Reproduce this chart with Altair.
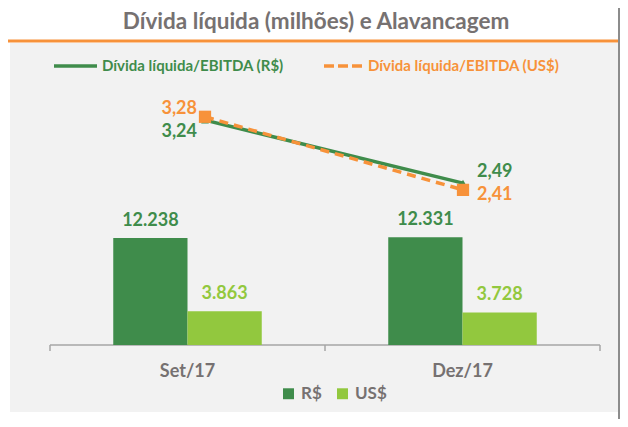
import altair as alt
import pandas as pd

periods = ["Set/17", "Dez/17"]
currencies = ["R$", "US$"]
debt_brl = [12238, 12331]
debt_usd = [3863, 3728]
debt_brl_labels = ["12.238", "12.331"]
debt_usd_labels = ["3.863", "3.728"]
lev_brl = [3.24, 2.49]
lev_usd = [3.28, 2.41]
lev_brl_labels = ["3,24", "2,49"]
lev_usd_labels = ["3,28", "2,41"]
title_text = "Dívida líquida (milhões) e Alavancagem"
line_legend = ["Dívida líquida/EBITDA (R$)", "Dívida líquida/EBITDA (US$)"]

DARK = "#3f8c4b"
LIGHT = "#92c83e"
ORANGE = "#f7923a"
GREY = "#767171"
PANEL = "#f2f2f2"
FONT = "Lato"

bars_df = pd.DataFrame({
    "period": periods * 2,
    "currency": [currencies[0]] * 2 + [currencies[1]] * 2,
    "value": debt_brl + debt_usd,
    "label": debt_brl_labels + debt_usd_labels,
})
lines_df = pd.DataFrame({
    "period": periods * 2,
    "series": [currencies[0]] * 2 + [currencies[1]] * 2,
    "value": lev_brl + lev_usd,
    "label": lev_brl_labels + lev_usd_labels,
})
one = pd.DataFrame({"a": [0]})

W, H = 550, 245

# decorations
panel = alt.Chart(one).mark_rect(color=PANEL).encode(
    x=alt.value(-40), x2=alt.value(568), y=alt.value(-57), y2=alt.value(312))
top_rule = alt.Chart(one).mark_rule(color=ORANGE, strokeWidth=3).encode(
    x=alt.value(-42), x2=alt.value(569), y=alt.value(-59))
right_rule = alt.Chart(one).mark_rule(color="#8c8c8c", strokeWidth=2).encode(
    x=alt.value(569), y=alt.value(-92), y2=alt.value(319))
title = alt.Chart(one).mark_text(text=title_text, font=FONT, fontSize=22.5, fontWeight="bold",
                                 color=GREY, align="center", baseline="alphabetic").encode(
    x=alt.value(266), y=alt.value(-71))
axis_line = alt.Chart(one).mark_rule(color="#a6a6a6", strokeWidth=1.5).encode(
    x=alt.value(0), x2=alt.value(W), y=alt.value(H))
axis_ticks = alt.layer(*[
    alt.Chart(one).mark_rule(color="#a6a6a6", strokeWidth=1.5).encode(
        x=alt.value(xv), y=alt.value(H), y2=alt.value(H + 6))
    for xv in (0, W / 2, W)
])

# top legend (manual)
leg1_line = alt.Chart(one).mark_rule(color=DARK, strokeWidth=3.5).encode(
    x=alt.value(4), x2=alt.value(47), y=alt.value(-34))
leg1_text = alt.Chart(one).mark_text(text=line_legend[0], font=FONT, fontSize=15, fontWeight="bold",
                                     color=DARK, align="left", baseline="middle").encode(
    x=alt.value(52), y=alt.value(-34))
leg2_line = alt.Chart(one).mark_rule(color=ORANGE, strokeWidth=3.5, strokeDash=[10, 4]).encode(
    x=alt.value(274), x2=alt.value(312), y=alt.value(-34))
leg2_text = alt.Chart(one).mark_text(text=line_legend[1], font=FONT, fontSize=15, fontWeight="bold",
                                     color=ORANGE, align="left", baseline="middle").encode(
    x=alt.value(318), y=alt.value(-34))

# bars
xband = alt.X("period:N", sort=periods,
              scale=alt.Scale(paddingInner=0.46, paddingOuter=0.23),
              axis=alt.Axis(title=None, domain=False, ticks=False, labelFont=FONT, labelFontSize=18,
                            labelFontWeight="bold", labelColor=GREY, labelPadding=17, labelAngle=0,
                            zindex=2))
ybar = alt.Y("value:Q", scale=alt.Scale(domain=[0, 28050], nice=False, zero=True), axis=None)
color = alt.Color("currency:N", sort=currencies,
                  scale=alt.Scale(domain=currencies, range=[DARK, LIGHT]),
                  legend=alt.Legend(title=None, orient="none", legendX=230, legendY=285,
                                    direction="horizontal", symbolType="square", symbolSize=120,
                                    symbolStrokeWidth=0, labelFont=FONT, labelFontSize=17,
                                    labelFontWeight="bold", labelColor=GREY, columnPadding=12,
                                    labelOffset=4, zindex=2))
bars = alt.Chart(bars_df).mark_bar(stroke=None).encode(
    x=xband, xOffset=alt.XOffset("currency:N", sort=currencies), y=ybar, color=color)
bar_labels = alt.Chart(bars_df).mark_text(font=FONT, fontSize=18, fontWeight="bold",
                                          baseline="bottom", dy=-8).encode(
    x=xband, xOffset=alt.XOffset("currency:N", sort=currencies), y=ybar, text="label:N",
    color=alt.Color("currency:N", scale=alt.Scale(domain=currencies, range=[DARK, "#8cc63f"]),
                    legend=None))
bar_layer = alt.layer(bars, bar_labels)

# lines
xl = alt.X("period:N", sort=periods,
           scale=alt.Scale(type="point", domain=periods, range=[155, 413], padding=0),
           axis=None)
yl = alt.Y("value:Q", scale=alt.Scale(domain=[0.563, 3.48], nice=False, zero=False), axis=None)
base = alt.Chart(lines_df)
line_brl = base.transform_filter(alt.datum.series == currencies[0]).mark_line(
    color=DARK, strokeWidth=3.5).encode(x=xl, y=yl)
line_usd = base.transform_filter(alt.datum.series == currencies[1]).mark_line(
    color=ORANGE, strokeWidth=3.5, strokeDash=[9, 6]).encode(x=xl, y=yl)
pt_brl = base.transform_filter(alt.datum.series == currencies[0]).mark_point(
    shape="triangle-up", filled=True, color=DARK, size=60, opacity=1).encode(x=xl, y=yl)
pt_usd = base.transform_filter(alt.datum.series == currencies[1]).mark_point(
    shape="square", filled=True, color=ORANGE, size=150, opacity=1).encode(x=xl, y=yl)


def lab(series, period, col, dx, dy, align):
    return base.transform_filter(
        (alt.datum.series == series) & (alt.datum.period == period)
    ).mark_text(font=FONT, fontSize=18, fontWeight="bold", color=col, dx=dx, dy=dy,
                align=align, baseline="middle").encode(x=xl, y=yl, text="label:N")


labels = [
    lab(currencies[1], periods[0], ORANGE, -8, -8, "right"),
    lab(currencies[0], periods[0], DARK, -8, 12, "right"),
    lab(currencies[0], periods[1], DARK, 14, -11, "left"),
    lab(currencies[1], periods[1], ORANGE, 14, 5, "left"),
]
line_layer = alt.layer(line_brl, line_usd, pt_brl, pt_usd, *labels)

chart = alt.layer(
    panel, top_rule, right_rule, title, axis_line, axis_ticks,
    leg1_line, leg1_text, leg2_line, leg2_text,
    bar_layer, line_layer,
).resolve_scale(x="independent", y="independent", color="independent").properties(
    width=W, height=H,
    autosize=alt.AutoSizeParams(type="none"),
    padding={"left": 42, "top": 92, "right": 20, "bottom": 74},
    background="white",
).configure_view(stroke=None)

chart.save("out.html", embed_options={"renderer": "svg", "actions": False})
